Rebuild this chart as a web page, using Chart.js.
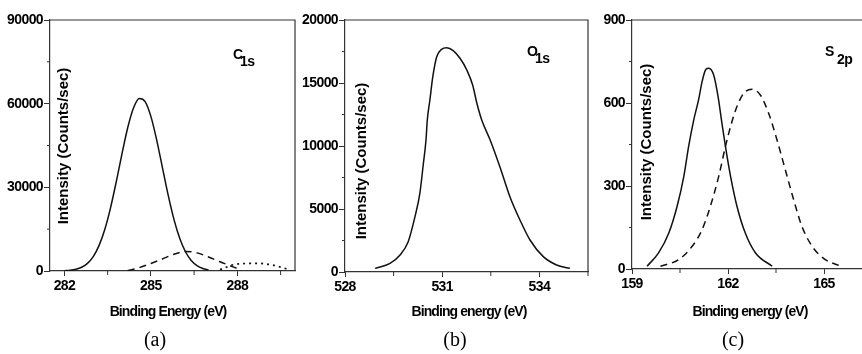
<!DOCTYPE html>
<html>
<head>
<meta charset="utf-8">
<script src="https://cdn.jsdelivr.net/npm/chart.js@4.4.1/dist/chart.umd.min.js"></script>
<style>
html,body{margin:0;padding:0;background:#fff;overflow:hidden;width:862px;height:354px;}
canvas{position:absolute;left:0;top:0;}
</style>
</head>
<body>
<canvas id="pa" width="862" height="354"></canvas>
<canvas id="pb" width="862" height="354"></canvas>
<canvas id="pc" width="900" height="354"></canvas>
<script>
// ---------- DATA ----------
// (a) C1s
const c1sMainE = [282.0,282.2,282.4,282.6,282.8,283.0,283.2,283.4,283.6,283.8,284.0,284.2,284.4,284.6,284.8,285.0,285.2,285.4,285.6,285.8,286.0,286.2,286.4,286.6,286.8,287.0];
const c1sMainI = [100,260,610,1340,2720,5160,9090,14890,22660,32060,42150,51540,58560,61860,60740,55440,47040,37100,27190,18530,11740,6910,3780,1930,910,400];
const c1sDashE = [284.2,284.6,285.0,285.4,285.8,286.2,286.6,287.0,287.4,287.7,288.0];
const c1sDashI = [150,1200,2700,4300,6000,7000,6500,5000,3300,2100,900];
const c1sDotE = [287.4,287.6,287.8,288.0,288.3,288.6,288.9,289.2,289.5,289.75];
const c1sDotI = [500,1300,2100,2500,2700,2750,2650,2200,1400,600];
const xTicksA = [282,283.5,285,286.5,288,289.5];
const xLabelsA = [282,285,288];
const yTicksA = [0,15000,30000,45000,60000,75000,90000];
const yLabelsA = [0,30000,60000,90000];

// (b) O1s
const o1sE = [528.93,529.39,529.7,529.95,530.16,530.31,530.42,530.5,530.54,530.62,530.71,530.83,530.98,531.14,531.34,531.55,531.76,531.94,532.07,532.22,532.48,532.78,533.09,533.4,533.71,534.12,534.53,534.94];
const o1sI = [290,690,1350,2400,4390,6240,8630,10480,12060,13650,15500,17090,17670,17800,17570,16960,16030,14840,13390,12060,10480,8360,5980,4130,2540,1220,560,290];
const xTicksB = [528,529.5,531,532.5,534,535.5];
const xLabelsB = [528,531,534];
const yTicksB = [0,2500,5000,7500,10000,12500,15000,17500,20000];
const yLabelsB = [0,5000,10000,15000,20000];

// (c) S2p
const s2pMainE = [159.47,159.83,160.15,160.41,160.62,160.77,160.93,161.08,161.19,161.31,161.4,161.55,161.69,161.81,161.92,162.08,162.28,162.54,162.86,163.38];
const s2pMainI = [10,58,130,227,335,443,539,611,677,722,726,702,623,527,443,335,227,130,58,10];
const s2pDashE = [159.89,160.46,160.88,161.19,161.45,161.71,161.92,162.11,162.28,162.49,162.75,163.01,163.27,163.53,163.79,164.05,164.31,164.63,165.04,165.46];
const s2pDashI = [10,34,82,142,227,335,443,527,587,635,650,629,563,467,359,251,154,82,34,13];
const xTicksC = [159,160.5,162,163.5,165,166.5];
const xLabelsC = [159,162,165];
const yTicksC = [0,150,300,450,600,750,900];
const yLabelsC = [0,300,600,900];

// ---------- RENDERING ----------
const AX = '#333';
const INK = '#000';
const pts = (E, I) => E.map((e, i) => ({x: e, y: I[i]}));

function drawText(ctx, txt, x, y, font, align, spacing, rot) {
  ctx.save();
  ctx.font = font;
  ctx.fillStyle = INK;
  ctx.textAlign = align || 'center';
  ctx.textBaseline = 'alphabetic';
  ctx.letterSpacing = spacing || '0px';
  ctx.translate(x, y);
  if (rot) ctx.rotate(rot);
  ctx.fillText(txt, 0, 0);
  ctx.restore();
}

function makePanel(id, p) {
  const framePlugin = {
    id: 'frame' + id,
    beforeDraw(chart) { chart.ctx.letterSpacing = '-0.6px'; },
    afterDraw(chart) {
      const ctx = chart.ctx, a = chart.chartArea;
      const xs = chart.scales.x, ys = chart.scales.y;
      ctx.save();
      ctx.letterSpacing = '0px';
      ctx.strokeStyle = AX; ctx.lineWidth = 1.2;
      ctx.beginPath();
      ctx.moveTo(a.left, a.top); ctx.lineTo(a.right, a.top);
      if (p.rightBorder) ctx.lineTo(a.right, a.bottom);
      ctx.stroke();
      // minor ticks
      ctx.lineWidth = 1;
      ctx.beginPath();
      p.xTicks.forEach(v => { if (!p.xLabels.includes(v)) { const px = xs.getPixelForValue(v); ctx.moveTo(px, a.bottom); ctx.lineTo(px, a.bottom + 4); } });
      p.yTicks.forEach(v => { if (!p.yLabels.includes(v)) { const py = ys.getPixelForValue(v); ctx.moveTo(a.left, py); ctx.lineTo(a.left - 3, py); } });
      ctx.stroke();
      ctx.restore();
      // texts
      drawText(ctx, 'Intensity (Counts/sec)', p.yTitle[0], p.yTitle[1], 'bold 15px "Liberation Sans", Arial, sans-serif', 'center', '0px', -Math.PI / 2);
      drawText(ctx, p.xTitleText, p.xTitle[0], p.xTitle[1], 'bold 14px "Liberation Sans", Arial, sans-serif', 'center', '-0.9px');
      drawText(ctx, p.panelLabel, p.panelPos[0], p.panelPos[1], '20px "Liberation Serif", "Times New Roman", serif', 'center');
      drawText(ctx, p.ann[0], p.annPos[0], p.annPos[1], 'bold 14px "Liberation Sans", Arial, sans-serif', 'left', '0px');
      drawText(ctx, p.ann[1], p.annPos[2], p.annPos[3], 'bold 14px "Liberation Sans", Arial, sans-serif', 'left', '-0.5px');
    }
  };
  const tickFont = {family: '"Liberation Sans", Arial, sans-serif', size: 14, weight: 'bold'};
  return new Chart(document.getElementById(id), {
    type: 'line',
    data: {datasets: p.datasets.map(d => ({
      data: d.data, borderColor: '#111', borderWidth: d.w || 1.5, borderDash: d.dash || [],
      pointRadius: 0, fill: false, tension: 0.4, cubicInterpolationMode: 'monotone'
    }))},
    options: {
      responsive: false, animation: false, devicePixelRatio: 1,
      layout: {padding: p.padding},
      plugins: {legend: {display: false}, tooltip: {enabled: false}, title: {display: false}},
      scales: {
        x: {
          type: 'linear', min: p.xRange[0], max: p.xRange[1],
          afterBuildTicks: s => { s.ticks = p.xTicks.map(v => ({value: v})); },
          afterFit: s => { s.height = 30; },
          grid: {display: true, drawOnChartArea: false, drawTicks: true, tickLength: 5, tickWidth: 1,
                 tickColor: c => (c.tick && p.xLabels.includes(c.tick.value)) ? AX : 'rgba(0,0,0,0)'},
          border: {display: true, color: AX, width: 1.2},
          ticks: {autoSkip: false, maxRotation: 0, padding: 2, color: INK, font: tickFont,
                  callback: v => p.xLabels.includes(v) ? String(v) : ''}
        },
        y: {
          type: 'linear', min: p.yRange[0], max: p.yRange[1],
          afterBuildTicks: s => { s.ticks = p.yTicks.map(v => ({value: v})); },
          afterFit: s => { s.width = 50; },
          grid: {display: true, drawOnChartArea: false, drawTicks: true, tickLength: 6, tickWidth: 1,
                 tickColor: c => (c.tick && p.yLabels.includes(c.tick.value)) ? AX : 'rgba(0,0,0,0)'},
          border: {display: true, color: AX, width: 1.2},
          ticks: {autoSkip: false, padding: 1, color: INK, font: tickFont,
                  callback: v => p.yLabels.includes(v) ? String(v) : ''}
        }
      }
    },
    plugins: [framePlugin]
  });
}

makePanel('pa', {
  padding: {left: 0, right: 567, top: 20, bottom: 53},
  xRange: [281.5, 290], yRange: [0, 90000],
  xTicks: xTicksA, xLabels: xLabelsA, yTicks: yTicksA, yLabels: yLabelsA,
  rightBorder: true,
  datasets: [
    {data: pts(c1sMainE, c1sMainI)},
    {data: pts(c1sDashE, c1sDashI), dash: [7, 5]},
    {data: pts(c1sDotE, c1sDotI), dash: [2, 4], w: 1.7}
  ],
  yTitle: [68, 146], xTitleText: 'Binding Energy (eV)', xTitle: [168, 316],
  panelLabel: '(a)', panelPos: [155, 346],
  ann: ['C', '1s'], annPos: [233, 59, 240, 66]
});

makePanel('pb', {
  padding: {left: 295, right: 274, top: 20, bottom: 52},
  xRange: [528, 535.5], yRange: [0, 20000],
  xTicks: xTicksB, xLabels: xLabelsB, yTicks: yTicksB, yLabels: yLabelsB,
  rightBorder: true,
  datasets: [{data: pts(o1sE, o1sI)}],
  yTitle: [366, 161], xTitleText: 'Binding energy (eV)', xTitle: [469, 316],
  panelLabel: '(b)', panelPos: [455, 346],
  ann: ['O', '1s'], annPos: [527, 56, 535, 63]
});

makePanel('pc', {
  padding: {left: 582, right: 28, top: 20, bottom: 55},
  xRange: [159, 166.5], yRange: [0, 900],
  xTicks: xTicksC, xLabels: xLabelsC, yTicks: yTicksC, yLabels: yLabelsC,
  rightBorder: true,
  datasets: [
    {data: pts(s2pMainE, s2pMainI)},
    {data: pts(s2pDashE, s2pDashI), dash: [7, 5]}
  ],
  yTitle: [651, 142], xTitleText: 'Binding energy (eV)', xTitle: [750, 316],
  panelLabel: '(c)', panelPos: [733, 346],
  ann: ['S', '2p'], annPos: [825, 56, 837, 64]
});
</script>
</body>
</html>
